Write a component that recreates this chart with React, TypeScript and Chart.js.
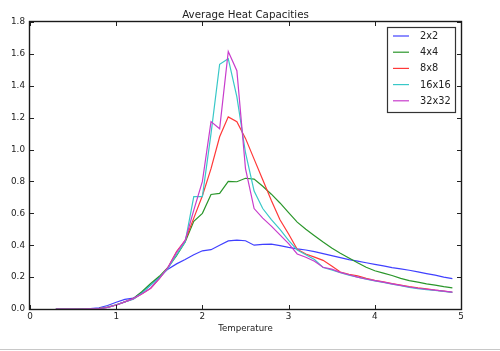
import React, { useEffect, useRef } from "react";
import { Chart, registerables } from "chart.js";

Chart.register(...registerables);

const temperatures = [
  0.3, 0.4, 0.5, 0.6, 0.7, 0.8, 0.9, 1.0, 1.1, 1.2, 1.3, 1.4, 1.5, 1.6, 1.7, 1.8,
  1.9, 2.0, 2.1, 2.2, 2.3, 2.4, 2.5, 2.6, 2.7, 2.8, 2.9, 3.0, 3.1, 3.2, 3.3, 3.4,
  3.5, 3.6, 3.7, 3.8, 3.9, 4.0, 4.1, 4.2, 4.3, 4.4, 4.5, 4.6, 4.7, 4.8, 4.9,
];

const seriesLabels = ["2x2", "4x4", "8x8", "16x16", "32x32"];
const seriesColors = ["#4040ff", "#2a962a", "#ff3838", "#38c8c8", "#c83ccc"];

const heat2x2 = [
  0.0, 0.0, 0.0, 0.001, 0.003, 0.008, 0.022, 0.042, 0.06, 0.068, 0.105, 0.15, 0.2, 0.25, 0.283, 0.31,
  0.34, 0.365, 0.372, 0.4, 0.427, 0.432, 0.428, 0.4, 0.405, 0.407, 0.397, 0.386, 0.377, 0.37, 0.36, 0.347,
  0.335, 0.322, 0.31, 0.3, 0.29, 0.28, 0.27, 0.26, 0.252, 0.243, 0.233, 0.222, 0.212, 0.2, 0.19,
];
const heat4x4 = [
  0.0, 0.0, 0.0, 0.0005, 0.002, 0.004, 0.012, 0.026, 0.045, 0.066, 0.11, 0.16, 0.205, 0.26, 0.335, 0.42,
  0.55, 0.6, 0.718, 0.725, 0.8, 0.798, 0.82, 0.815, 0.77, 0.72, 0.665, 0.605, 0.545, 0.5, 0.46, 0.42,
  0.382, 0.35, 0.32, 0.29, 0.262, 0.24, 0.225, 0.21, 0.192, 0.178, 0.168, 0.158, 0.15, 0.14, 0.132,
];
const heat8x8 = [
  0.0, 0.0, 0.0, 0.0, 0.001, 0.003, 0.01, 0.025, 0.045, 0.065, 0.095, 0.13, 0.19, 0.26, 0.36, 0.43,
  0.57, 0.71, 0.88, 1.08, 1.205, 1.175, 1.07, 0.94, 0.81, 0.68, 0.56, 0.47, 0.375, 0.345, 0.325, 0.305,
  0.27, 0.232, 0.218, 0.208, 0.192, 0.18, 0.17, 0.16, 0.15, 0.14, 0.132, 0.126, 0.118, 0.112, 0.105,
];
const heat16x16 = [
  0.0, 0.0, 0.0, 0.0, 0.001, 0.003, 0.01, 0.025, 0.045, 0.062, 0.1, 0.15, 0.195, 0.255, 0.34, 0.42,
  0.705, 0.705, 1.1, 1.535, 1.57, 1.33, 0.98, 0.74, 0.63, 0.56, 0.5, 0.43, 0.37, 0.34, 0.31, 0.26,
  0.245, 0.228, 0.212, 0.2, 0.187, 0.176, 0.166, 0.156, 0.146, 0.136, 0.128, 0.122, 0.116, 0.11, 0.104,
];
const heat32x32 = [
  0.0, 0.0, 0.0, 0.0, 0.001, 0.003, 0.01, 0.025, 0.045, 0.065, 0.095, 0.13, 0.19, 0.26, 0.355, 0.43,
  0.62, 0.8, 1.175, 1.13, 1.615, 1.495, 0.88, 0.63, 0.57, 0.52, 0.465, 0.41, 0.345, 0.325, 0.3, 0.262,
  0.25, 0.23, 0.215, 0.2, 0.188, 0.178, 0.168, 0.158, 0.148, 0.138, 0.13, 0.124, 0.118, 0.112, 0.106,
];

const xTicks = [0, 1, 2, 3, 4, 5];
const yTicks = [0, 0.2, 0.4, 0.6, 0.8, 1.0, 1.2, 1.4, 1.6, 1.8];

const titleText = "Average Heat Capacities";
const xLabelText = "Temperature";
const FONT = "'DejaVu Sans', sans-serif";

const decorPlugin = {
  id: "decor",
  afterDatasetsDraw(chart: any) {
    const ctx = chart.ctx as CanvasRenderingContext2D;
    const { left, right, top, bottom } = chart.chartArea;
    const xs = chart.scales.x;
    const ys = chart.scales.y;
    ctx.save();
    // inner ticks
    ctx.strokeStyle = "#222";
    ctx.lineWidth = 1;
    ctx.beginPath();
    xTicks.forEach((v) => {
      const px = Math.round(xs.getPixelForValue(v)) + 0.5;
      ctx.moveTo(px, bottom);
      ctx.lineTo(px, bottom - 4);
      ctx.moveTo(px, top);
      ctx.lineTo(px, top + 4);
    });
    yTicks.forEach((v) => {
      const py = Math.round(ys.getPixelForValue(v)) + 0.5;
      ctx.moveTo(left, py);
      ctx.lineTo(left + 4, py);
      ctx.moveTo(right, py);
      ctx.lineTo(right - 4, py);
    });
    ctx.stroke();
    // frame
    ctx.lineWidth = 1.4;
    ctx.strokeStyle = "#1a1a1a";
    ctx.strokeRect(left - 0.5, top - 0.5, right - left + 1, bottom - top + 1);

    // legend
    const lx = 387, ly = 27, lw = 68, lh = 85;
    ctx.fillStyle = "#fff";
    ctx.fillRect(lx, ly, lw, lh);
    ctx.lineWidth = 1.2;
    ctx.strokeStyle = "#333";
    ctx.strokeRect(lx + 0.5, ly + 0.5, lw, lh);
    ctx.font = `9.8px ${FONT}`;
    ctx.textBaseline = "middle";
    ctx.textAlign = "left";
    chart.data.datasets.forEach((ds: any, i: number) => {
      const ry = 36 + i * 16.2;
      ctx.strokeStyle = ds.borderColor;
      ctx.lineWidth = 1.2;
      ctx.beginPath();
      ctx.moveTo(393, ry);
      ctx.lineTo(409, ry);
      ctx.stroke();
      ctx.fillStyle = "#222";
      ctx.fillText(ds.label, 420, ry + 0.5);
    });

    // title & x label
    ctx.fillStyle = "#222";
    ctx.textAlign = "center";
    ctx.textBaseline = "alphabetic";
    ctx.font = `10.3px ${FONT}`;
    ctx.fillText(titleText, (left + right) / 2, 17.5);
    ctx.font = `8.6px ${FONT}`;
    ctx.fillText(xLabelText, (left + right) / 2, 330.5);

    // page separator line
    ctx.fillStyle = "#c8c8c8";
    ctx.fillRect(0, 349, chart.width, 1);
    ctx.restore();
  },
};

export default function App() {
  const canvasRef = useRef<HTMLCanvasElement | null>(null);

  useEffect(() => {
    document.body.style.margin = "0";
    const canvas = canvasRef.current;
    if (!canvas) return;
    const seriesValues = [heat2x2, heat4x4, heat8x8, heat16x16, heat32x32];
    const datasets = seriesLabels.map((label, i) => ({
      label,
      data: temperatures.map((t, j) => ({ x: t, y: seriesValues[i][j] })),
      borderColor: seriesColors[i],
      backgroundColor: seriesColors[i],
      borderWidth: 1.2,
      pointRadius: 0,
      tension: 0,
      fill: false,
      order: seriesLabels.length - i,
    }));
    const chart = new Chart(canvas, {
      type: "line",
      data: { datasets },
      options: {
        animation: false,
        responsive: false,
        maintainAspectRatio: false,
        layout: { padding: { top: 22, right: 39, left: 0, bottom: 0 } },
        plugins: {
          legend: { display: false },
          title: { display: false },
          tooltip: { enabled: false },
        },
        scales: {
          x: {
            type: "linear",
            min: 0,
            max: 5,
            grid: { display: false, drawTicks: false },
            border: { display: false },
            afterBuildTicks: (scale: any) => {
              scale.ticks = xTicks.map((v) => ({ value: v }));
            },
            afterFit: (scale: any) => {
              scale.height = 42;
            },
            ticks: {
              padding: 2,
              color: "#222",
              font: { family: FONT, size: 8.8 },
              maxRotation: 0,
              callback: (v: any) => String(v),
            },
          },
          y: {
            type: "linear",
            min: 0,
            max: 1.8,
            grid: { display: false, drawTicks: false },
            border: { display: false },
            afterBuildTicks: (scale: any) => {
              scale.ticks = yTicks.map((v) => ({ value: v }));
            },
            afterFit: (scale: any) => {
              scale.width = 30;
            },
            ticks: {
              padding: 5,
              color: "#222",
              font: { family: FONT, size: 8.8 },
              callback: (v: any) => Number(v).toFixed(1),
            },
          },
        },
      },
      plugins: [decorPlugin],
    });
    return () => chart.destroy();
  }, []);

  return (
    <div style={{ width: 500, height: 351, background: "#fff" }}>
      <canvas ref={canvasRef} width={500} height={351} style={{ display: "block" }} />
    </div>
  );
}
